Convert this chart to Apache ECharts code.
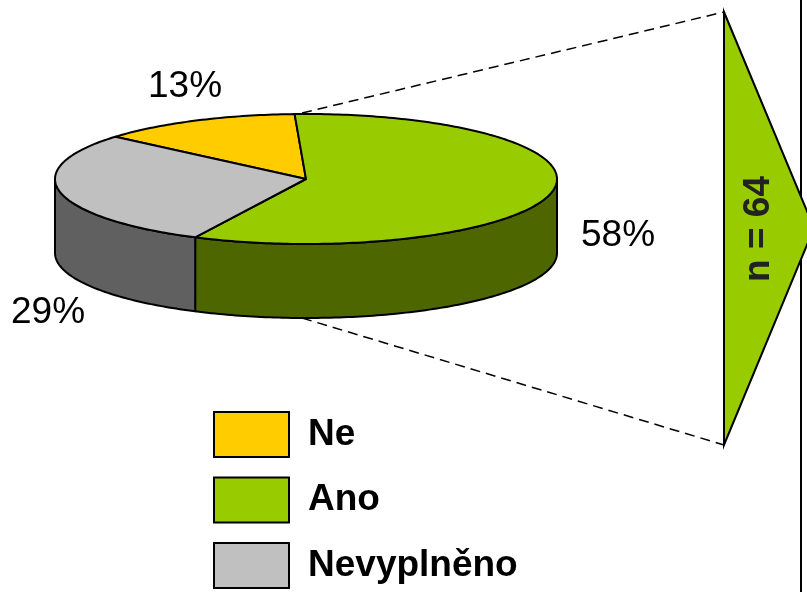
<!DOCTYPE html>
<html>
<head>
<meta charset="utf-8">
<script src="https://cdn.jsdelivr.net/npm/echarts@6/dist/echarts.min.js"></script>
<style>
  html, body { margin: 0; padding: 0; background: #fff; }
  #chart { width: 807px; height: 592px; }
</style>
</head>
<body>
<div id="chart"></div>
<script>
// data
const categories = ['Ne', 'Ano', 'Nevyplněno'];
const shares = [13, 58, 29];
const sampleSize = 64;

// look of the 3d pie
const topColors = ['#FFCC00', '#99CC00', '#C0C0C0'];
const sideColors = ['#806600', '#4D6600', '#606060'];
const pie = { cx: 306, cy: 179, rx: 251, ry: 65, depth: 74, startDeg: 139.4 };
const total = shares.reduce((a, b) => a + b, 0);

function pt(deg, dy) {
  const t = deg * Math.PI / 180;
  return [pie.cx + pie.rx * Math.cos(t), pie.cy - pie.ry * Math.sin(t) + (dy || 0)];
}

// points along the rim, from a0 down to a1 (clockwise)
function arc(a0, a1, dy) {
  const pts = [];
  const n = Math.max(2, Math.ceil(Math.abs(a0 - a1)));
  for (let k = 0; k <= n; k++) pts.push(pt(a0 + (a1 - a0) * k / n, dy));
  return pts;
}

const sliceRenderer = (idx) => (params, api) => {
  const before = shares.slice(0, idx).reduce((a, b) => a + b, 0);
  const a0 = pie.startDeg - before / total * 360;
  const a1 = a0 - api.value(0) / total * 360;
  const children = [];

  // front side wall: part of the slice that lies in the lower half of the ellipse
  [-360, 0, 360].forEach((k) => {
    const hi = Math.min(a0, k);
    const lo = Math.max(a1, k - 180);
    if (hi > lo) {
      const top = arc(hi, lo, 0);
      const bottom = arc(lo, hi, pie.depth);
      children.push({
        type: 'polygon',
        z2: 1,
        shape: { points: top.concat(bottom) },
        style: { fill: sideColors[idx], stroke: '#000', lineWidth: 2, lineJoin: 'round' }
      });
    }
  });

  // top face
  children.push({
    type: 'polygon',
    z2: 5,
    shape: { points: [[pie.cx, pie.cy]].concat(arc(a0, a1, 0)) },
    style: { fill: topColors[idx], stroke: '#000', lineWidth: 2, lineJoin: 'round' }
  });
  return { type: 'group', children: children };
};

const chart = echarts.init(document.getElementById('chart'));

const pctStyle = { fontSize: 37, fontFamily: 'Liberation Sans', fill: '#000', align: 'center', verticalAlign: 'middle' };

chart.setOption({
  backgroundColor: '#fff',
  animation: false,
  legend: {
    orient: 'vertical',
    left: 213,
    top: 409.5,
    height: 300,
    padding: 0,
    itemWidth: 75,
    itemHeight: 45,
    itemGap: 15.5,
    icon: 'rect',
    itemStyle: { borderColor: '#000', borderWidth: 2 },
    textStyle: { fontSize: 37, lineHeight: 40, fontWeight: 'bold', fontFamily: 'Liberation Sans', color: '#000', padding: [10, 0, 0, 14] },
    data: categories
  },
  series: categories.map((name, i) => ({
    type: 'custom',
    name: name,
    coordinateSystem: 'none',
    itemStyle: { color: topColors[i] },
    renderItem: sliceRenderer(i),
    data: [[shares[i]]]
  })),
  graphic: [
    // frame line at right
    { type: 'line', z: 1, shape: { x1: 801, y1: 0, x2: 801, y2: 592 }, style: { stroke: '#000', lineWidth: 2 } },
    // dashed zoom lines
    { type: 'line', z: 1, shape: { x1: 302, y1: 113, x2: 724, y2: 12 }, style: { stroke: '#000', lineWidth: 1.5, lineDash: [10, 6] } },
    { type: 'line', z: 1, shape: { x1: 302, y1: 318, x2: 724, y2: 445 }, style: { stroke: '#000', lineWidth: 1.5, lineDash: [10, 6] } },
    // arrow with sample size
    { type: 'polygon', z: 10, shape: { points: [[724, 12], [814, 228], [724, 445]] }, style: { fill: '#99CC00', stroke: '#000', lineWidth: 2 } },
    { type: 'text', z: 11, x: 759, y: 229, rotation: Math.PI / 2,
      style: { text: 'n = ' + sampleSize, fontSize: 37, fontWeight: 'bold', fontFamily: 'Liberation Sans', fill: '#222', align: 'center', verticalAlign: 'middle' } },
    // percentage labels
    { type: 'text', z: 11, x: 185, y: 87, style: Object.assign({ text: shares[0] + '%' }, pctStyle) },
    { type: 'text', z: 11, x: 618, y: 236, style: Object.assign({ text: shares[1] + '%' }, pctStyle) },
    { type: 'text', z: 11, x: 48, y: 313, style: Object.assign({ text: shares[2] + '%' }, pctStyle) }
  ]
});
</script>
</body>
</html>
